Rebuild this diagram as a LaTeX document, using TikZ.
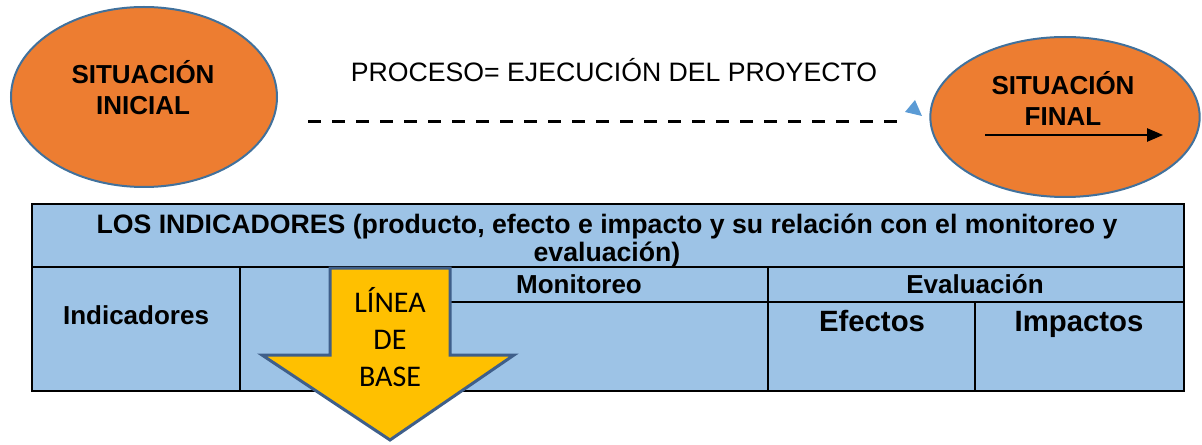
\documentclass[tikz,border=0pt]{standalone}
\usepackage{fontspec}
\setmainfont{Liberation Sans}
\newfontfamily\calibri{Carlito}
\usetikzlibrary{shapes.geometric,arrows.meta}
\definecolor{orangefill}{HTML}{ED7D31}
\definecolor{ellborder}{HTML}{41719C}
\definecolor{tablefill}{HTML}{9DC3E6}
\definecolor{arrowfill}{HTML}{FFC000}
\definecolor{arrowborder}{HTML}{3F5F8A}
\definecolor{tipblue}{HTML}{5B9BD5}
\tikzset{
  situ/.style={ellipse, draw=ellborder, fill=orangefill, line width=1.5pt, inner sep=0pt},
  bigtxt/.style={font=\bfseries\fontsize{19.5}{23.25}\selectfont, align=center, inner sep=0pt},
  celltxt/.style={font=\bfseries\fontsize{19.5}{21}\selectfont, align=center, inner sep=0pt},
  titletxt/.style={font=\bfseries\fontsize{20}{21}\selectfont, align=center, inner sep=0pt},
  celltxtbig/.style={font=\bfseries\fontsize{22}{24}\selectfont, inner sep=0pt, anchor=base},
  arrtxt/.style={font=\calibri\fontsize{22.5}{24}\selectfont, inner sep=0pt},
  tbl/.style={line width=1.5pt, black},
}
\begin{document}
\begin{tikzpicture}[x=0.75pt,y=-0.75pt]
\useasboundingbox (0,0) rectangle (1202,445);
% ellipses
\node[situ, minimum width=199.5pt, minimum height=135pt] (ini) at (144,97) {};
\node[bigtxt] (initxt) at (143,87.5) {SITUACIÓN\\INICIAL};
\node[situ, minimum width=202pt, minimum height=120pt] (fin) at (1065,117) {};
\node[bigtxt] (fintxt) at (1063,98) {SITUACIÓN\\FINAL};
\coordinate (fa) at (985,135);
\coordinate (fb) at (1163,135);
\draw[line width=1.2pt, -{Triangle[length=12pt,width=10pt]}] (fa) -- (fb);
% process text and dashed line
\node[font=\fontsize{20}{22}\selectfont, inner sep=0pt] (proc) at (614,70) {PROCESO= EJECUCIÓN DEL PROYECTO};
\coordinate (da) at (308,122);
\coordinate (db) at (905,122);
\draw[line width=2.25pt, dash pattern=on 9.5pt off 8.5pt] (da) -- (db);
\fill[tipblue] (905,112) -- (915,100) -- (922,116) -- cycle;
% table
\fill[tablefill] (32,204) rectangle (1184,391);
\draw[tbl] (32,204) rectangle (1184,391);
\draw[tbl] (32,267) -- (1184,267);
\draw[tbl] (240,267) -- (240,391);
\draw[tbl] (390,267) -- (390,391);
\draw[tbl] (768,267) -- (768,391);
\draw[tbl] (390,302) -- (1184,302);
\draw[tbl] (975,302) -- (975,391);
\node[titletxt] (title) at (607,240) {LOS INDICADORES (producto, efecto e impacto y su relación con el monitoreo y\\evaluación)};
\node[celltxt] (indic) at (136,315) {Indicadores};
\node[celltxt] (monit) at (579,284) {Monitoreo};
\node[celltxt] (evalu) at (975,284) {Evaluación};
\node[celltxtbig] (efect) at (872,331) {Efectos};
\node[celltxtbig] (impac) at (1079,331) {Impactos};
% baseline arrow
\draw[line width=2.25pt, draw=arrowborder, fill=arrowfill, line join=miter]
  (330,268) -- (450,268) -- (450,355) -- (514,355) -- (390,440) -- (262,355) -- (330,355) -- cycle;
\node[arrtxt] (lin1) at (390,300) {LÍNEA};
\node[arrtxt] (lin2) at (390,340) {DE};
\node[arrtxt] (lin3) at (390,377) {BASE};
\end{tikzpicture}
\end{document}
